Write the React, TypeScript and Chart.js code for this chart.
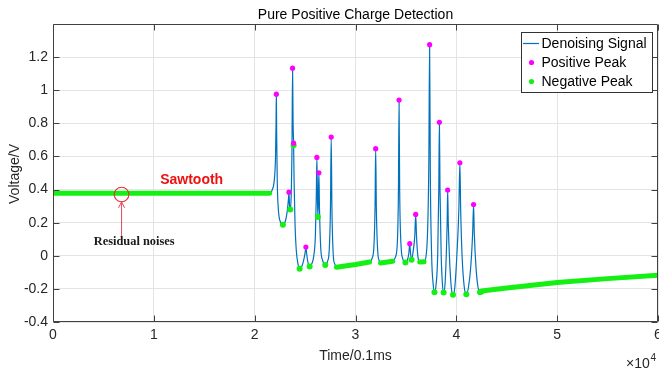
import React, { useEffect, useRef } from "react";
import { Chart, registerables } from "chart.js";

Chart.register(...registerables);

// ---------- data (x in units of 10^4 samples of 0.1 ms, y in volts) ----------
const X_TICKS = [0, 1, 2, 3, 4, 5, 6];
const X_TICK_LABELS = ["0", "1", "2", "3", "4", "5", "6"];
const Y_TICKS = [-0.4, -0.2, 0, 0.2, 0.4, 0.6, 0.8, 1, 1.2];
const Y_TICK_LABELS = ["-0.4", "-0.2", "0", "0.2", "0.4", "0.6", "0.8", "1", "1.2"];

const TITLE = "Pure Positive Charge Detection";
const X_TITLE = "Time/0.1ms";
const Y_TITLE = "Voltage/V";
const SERIES_NAMES = ["Denoising Signal", "Positive Peak", "Negative Peak"];

const signalX = [
  0, 0.5, 1.0, 1.5, 2.0, 2.15, 2.175, 2.195, 2.207, 2.212, 2.215, 2.218, 2.224, 2.235, 2.255,
  2.28, 2.305, 2.325, 2.336, 2.34, 2.346, 2.353, 2.362, 2.37, 2.376, 2.381, 2.386, 2.391, 2.4,
  2.413, 2.43, 2.446, 2.47, 2.49, 2.502, 2.508, 2.515, 2.53, 2.545, 2.565, 2.585, 2.602, 2.611,
  2.617, 2.622, 2.627, 2.632, 2.637, 2.643, 2.655, 2.675, 2.7, 2.722, 2.74, 2.752, 2.759, 2.766,
  2.78, 2.795, 2.81, 3.0, 3.14, 3.165, 3.183, 3.194, 3.2, 3.207, 3.22, 3.236, 3.254, 3.37, 3.395,
  3.415, 3.426, 3.432, 3.438, 3.45, 3.47, 3.495, 3.515, 3.53, 3.538, 3.545, 3.556, 3.57, 3.588,
  3.597, 3.605, 3.62, 3.64, 3.68, 3.7, 3.715, 3.727, 3.735, 3.742, 3.755, 3.77, 3.783, 3.8, 3.815,
  3.826, 3.832, 3.838, 3.85, 3.862, 3.874, 3.888, 3.9, 3.909, 3.914, 3.92, 3.935, 3.95, 3.967,
  3.985, 4.005, 4.025, 4.035, 4.043, 4.057, 4.077, 4.099, 4.12, 4.145, 4.162, 4.171, 4.178, 4.195,
  4.215, 4.235, 4.27, 4.5, 5.0, 5.5, 6.0,
];
const signalY = [
  0.377, 0.376, 0.377, 0.377, 0.378, 0.378, 0.4, 0.46, 0.6, 0.8, 0.976, 0.75, 0.45, 0.28, 0.205,
  0.188, 0.21, 0.28, 0.35, 0.384, 0.3, 0.279, 0.36, 0.65, 1.133, 0.8, 0.68, 0.45, 0.2,
  0.03, -0.05, -0.079, -0.06, -0.015, 0.025, 0.053, 0.015, -0.045, -0.065, -0.05, -0.005, 0.12, 0.35,
  0.594, 0.38, 0.234, 0.36, 0.501, 0.28, 0.05, -0.03, -0.055, -0.035, 0.04, 0.3, 0.717, 0.3,
  0.0, -0.05, -0.069, -0.053, -0.038, -0.015, 0.06, 0.3, 0.647, 0.28, 0.03, -0.03, -0.044, -0.033, -0.01,
  0.08, 0.4, 0.941, 0.4, 0.08, -0.02, -0.04, -0.025, 0.02, 0.073, 0.02, -0.024, 0.02, 0.12,
  0.25, 0.12, -0.01, -0.038, -0.036, 0.0, 0.15, 0.55, 1.275, 0.5, 0.0, -0.17, -0.22, -0.17, 0.0,
  0.4, 0.806, 0.4, 0.0, -0.17, -0.222, -0.17, 0.0, 0.2, 0.397, 0.2, -0.05, -0.19, -0.236,
  -0.19, 0.0, 0.28, 0.562, 0.28, 0.0, -0.18, -0.232, -0.19, -0.05, 0.14, 0.309, 0.14, -0.07,
  -0.19, -0.22, -0.211, -0.195, -0.162, -0.138, -0.118,
];

const posPeakX = [2.215, 2.34, 2.376, 2.386, 2.508, 2.617, 2.637, 2.759, 3.2, 3.432, 3.538, 3.597, 3.735, 3.832, 3.914, 4.035, 4.171];
const posPeakY = [0.976, 0.384, 1.133, 0.68, 0.053, 0.594, 0.501, 0.717, 0.647, 0.941, 0.073, 0.25, 1.275, 0.806, 0.397, 0.562, 0.309];

const negPeakX = [2.28, 2.353, 2.386, 2.446, 2.545, 2.627, 2.7, 3.495, 3.556, 3.783, 3.874, 3.967, 4.099, 4.235, 4.25];
const negPeakY = [0.188, 0.279, 0.668, -0.079, -0.065, 0.234, -0.055, -0.04, -0.024, -0.22, -0.222, -0.236, -0.232, -0.22, -0.216];

// dense runs of negative-peak markers along the slowly varying parts (null separates runs)
const negBandX = [0, 2.15, null, 2.81, 3.0, 3.14, null, 3.248, 3.37, null, 3.636, 3.68, null, 4.27, 4.5, 5.0, 5.5, 6.0];
const negBandY = [0.377, 0.378, null, -0.069, -0.053, -0.038, null, -0.044, -0.033, null, -0.038, -0.036, null, -0.211, -0.195, -0.162, -0.138, -0.118];

// annotation anchors in data units
const NOISE_MARK = { x: 0.68, y: 0.37 };
const SAWTOOTH_TEXT = { text: "Sawtooth", x: 1.375, y: 0.436 };
const NOISE_TEXT = { text: "Residual noises", x: 0.805, y: 0.066 };
const ARROW_TAIL_Y = 0.12;

// ---------- styles ----------
const FONT = "'Liberation Sans', Arial, Helvetica, sans-serif";
const AXIS_COLOR = "#404040";
const TEXT_COLOR = "#262626";
const GRID_COLOR = "#e4e4e4";
const BLUE = "#0072BD";
const MAGENTA = "#ff00ff";
const GREEN = "#14f014";

const toPts = (xs: (number | null)[], ys: (number | null)[]) =>
  xs.map((x, i) => ({ x: x as number, y: ys[i] as number }));

const decorPlugin = {
  id: "decor",
  afterDraw(chart: any) {
    const { ctx, chartArea: a, scales } = chart;
    const xs = scales.x;
    const ys = scales.y;
    ctx.save();

    // frame
    ctx.strokeStyle = AXIS_COLOR;
    ctx.lineWidth = 1;
    const L = Math.round(a.left) + 0.5;
    const R = Math.round(a.right) - 0.5;
    const T = Math.round(a.top) + 0.5;
    const B = Math.round(a.bottom) - 0.5;
    ctx.beginPath();
    ctx.moveTo(L, T);
    ctx.lineTo(R, T);
    ctx.lineTo(R, B);
    ctx.lineTo(L, B);
    ctx.closePath();
    ctx.stroke();

    // inward ticks
    const tl = 6;
    ctx.beginPath();
    X_TICKS.forEach((v) => {
      const px = Math.round(xs.getPixelForValue(v)) + 0.5;
      ctx.moveTo(px, B);
      ctx.lineTo(px, B - tl);
      ctx.moveTo(px, T);
      ctx.lineTo(px, T + tl);
    });
    Y_TICKS.forEach((v) => {
      const py = Math.round(ys.getPixelForValue(v)) + 0.5;
      ctx.moveTo(L, py);
      ctx.lineTo(L + tl, py);
      ctx.moveTo(R, py);
      ctx.lineTo(R - tl, py);
    });
    ctx.stroke();

    // title
    const cx = (a.left + a.right) / 2;
    ctx.fillStyle = "#000";
    ctx.font = `14px ${FONT}`;
    ctx.textAlign = "center";
    ctx.textBaseline = "alphabetic";
    ctx.fillText(TITLE, cx, 18.5);

    // x title
    ctx.fillStyle = TEXT_COLOR;
    ctx.fillText(X_TITLE, cx, 360);

    // exponent
    ctx.textAlign = "left";
    ctx.font = `14px ${FONT}`;
    ctx.fillText("\u00d710", 626, 368);
    ctx.font = `10px ${FONT}`;
    ctx.fillText("4", 650.5, 361);

    // y title
    ctx.save();
    ctx.translate(18.5, (a.top + a.bottom) / 2 + 1);
    ctx.rotate(-Math.PI / 2);
    ctx.font = `14px ${FONT}`;
    ctx.textAlign = "center";
    ctx.fillText(Y_TITLE, 0, 0);
    ctx.restore();

    // annotations
    const mx = xs.getPixelForValue(NOISE_MARK.x);
    const my = ys.getPixelForValue(NOISE_MARK.y);
    const r = 7.3;
    ctx.strokeStyle = "#e8303a";
    ctx.lineWidth = 1.1;
    ctx.beginPath();
    ctx.arc(mx, my, r, 0, Math.PI * 2);
    ctx.stroke();

    const tailY = ys.getPixelForValue(ARROW_TAIL_Y);
    const tipY = my + r;
    ctx.strokeStyle = "#e04a58";
    ctx.lineWidth = 1;
    ctx.beginPath();
    ctx.moveTo(mx, tailY);
    ctx.lineTo(mx, tipY);
    ctx.moveTo(mx - 3, tipY + 6);
    ctx.lineTo(mx, tipY);
    ctx.lineTo(mx + 3, tipY + 6);
    ctx.stroke();

    ctx.fillStyle = "#ee1111";
    ctx.font = `bold 14px ${FONT}`;
    ctx.textAlign = "center";
    ctx.fillText(SAWTOOTH_TEXT.text, xs.getPixelForValue(SAWTOOTH_TEXT.x), ys.getPixelForValue(SAWTOOTH_TEXT.y));

    ctx.fillStyle = "#1a1a1a";
    ctx.font = `bold 12.4px 'Liberation Serif', 'Times New Roman', serif`;
    ctx.fillText(NOISE_TEXT.text, xs.getPixelForValue(NOISE_TEXT.x), ys.getPixelForValue(NOISE_TEXT.y));

    // legend
    const lx = 521.5, ly = 32.5, lw = 131, lh = 60;
    ctx.fillStyle = "#fff";
    ctx.fillRect(lx, ly, lw, lh);
    ctx.strokeStyle = "#333";
    ctx.lineWidth = 1;
    ctx.strokeRect(lx, ly, lw, lh);
    const rows = [43.5, 62.5, 81.5];
    ctx.strokeStyle = BLUE;
    ctx.lineWidth = 1.2;
    ctx.beginPath();
    ctx.moveTo(523, rows[0]);
    ctx.lineTo(539, rows[0]);
    ctx.stroke();
    ctx.fillStyle = MAGENTA;
    ctx.beginPath();
    ctx.arc(531.5, rows[1], 2.6, 0, Math.PI * 2);
    ctx.fill();
    ctx.fillStyle = GREEN;
    ctx.beginPath();
    ctx.arc(531.5, rows[2], 2.6, 0, Math.PI * 2);
    ctx.fill();
    ctx.fillStyle = "#000";
    ctx.font = `14px ${FONT}`;
    ctx.textAlign = "left";
    ctx.textBaseline = "middle";
    SERIES_NAMES.forEach((n, i) => ctx.fillText(n, 541.5, rows[i] + 0.5));

    ctx.restore();
  },
};

export default function App() {
  const ref = useRef<HTMLCanvasElement | null>(null);

  useEffect(() => {
    if (!ref.current) return;
    const chart = new Chart(ref.current, {
      type: "line",
      data: {
        datasets: [
          {
            label: SERIES_NAMES[1],
            data: toPts(posPeakX, posPeakY),
            showLine: false,
            pointRadius: 2.6,
            pointBackgroundColor: MAGENTA,
            pointBorderWidth: 0,
            order: 0,
          },
          {
            label: SERIES_NAMES[2],
            data: toPts(negPeakX, negPeakY),
            showLine: false,
            pointRadius: 3,
            pointBackgroundColor: GREEN,
            pointBorderWidth: 0,
            order: 1,
          },
          {
            label: "negative-peak runs",
            data: toPts(negBandX, negBandY),
            borderColor: GREEN,
            borderWidth: 5,
            borderCapStyle: "round",
            pointRadius: 0,
            spanGaps: false,
            tension: 0,
            order: 2,
          },
          {
            label: SERIES_NAMES[0],
            data: toPts(signalX, signalY),
            borderColor: BLUE,
            borderWidth: 1.2,
            pointRadius: 0,
            cubicInterpolationMode: "monotone",
            order: 3,
          },
        ],
      },
      options: {
        responsive: false,
        animation: false,
        parsing: true,
        layout: { autoPadding: false, padding: { top: 24, right: 1, left: 0, bottom: 0 } },
        plugins: {
          legend: { display: false },
          title: { display: false },
          tooltip: { enabled: false },
        },
        scales: {
          x: {
            type: "linear",
            min: 0,
            max: 6,
            afterBuildTicks: (s: any) => {
              s.ticks = X_TICKS.map((v) => ({ value: v }));
            },
            afterFit: (s: any) => {
              s.height = 50;
              s.paddingLeft = 0;
              s.paddingRight = 0;
            },
            ticks: {
              autoSkip: false,
              maxRotation: 0,
              padding: 5,
              color: TEXT_COLOR,
              font: { family: FONT, size: 14 },
              callback: (v: any) => X_TICK_LABELS[X_TICKS.indexOf(Number(v))] ?? "",
            },
            grid: { color: GRID_COLOR, drawTicks: false, lineWidth: 1 },
            border: { display: false },
          },
          y: {
            type: "linear",
            min: -0.4,
            max: 1.4,
            afterBuildTicks: (s: any) => {
              s.ticks = Y_TICKS.map((v) => ({ value: v }));
            },
            afterFit: (s: any) => {
              s.width = 53;
              s.paddingTop = 0;
              s.paddingBottom = 0;
            },
            ticks: {
              autoSkip: false,
              padding: 5,
              color: TEXT_COLOR,
              font: { family: FONT, size: 14 },
              callback: (v: any) => {
                const i = Y_TICKS.findIndex((t) => Math.abs(t - Number(v)) < 1e-9);
                return i >= 0 ? Y_TICK_LABELS[i] : "";
              },
            },
            grid: { color: GRID_COLOR, drawTicks: false, lineWidth: 1 },
            border: { display: false },
          },
        },
      },
      plugins: [decorPlugin],
    } as any);
    return () => chart.destroy();
  }, []);

  return (
    <canvas
      ref={ref}
      width={659}
      height={372}
      style={{ position: "absolute", left: 0, top: 0, width: 659, height: 372, background: "#fff" }}
    />
  );
}
